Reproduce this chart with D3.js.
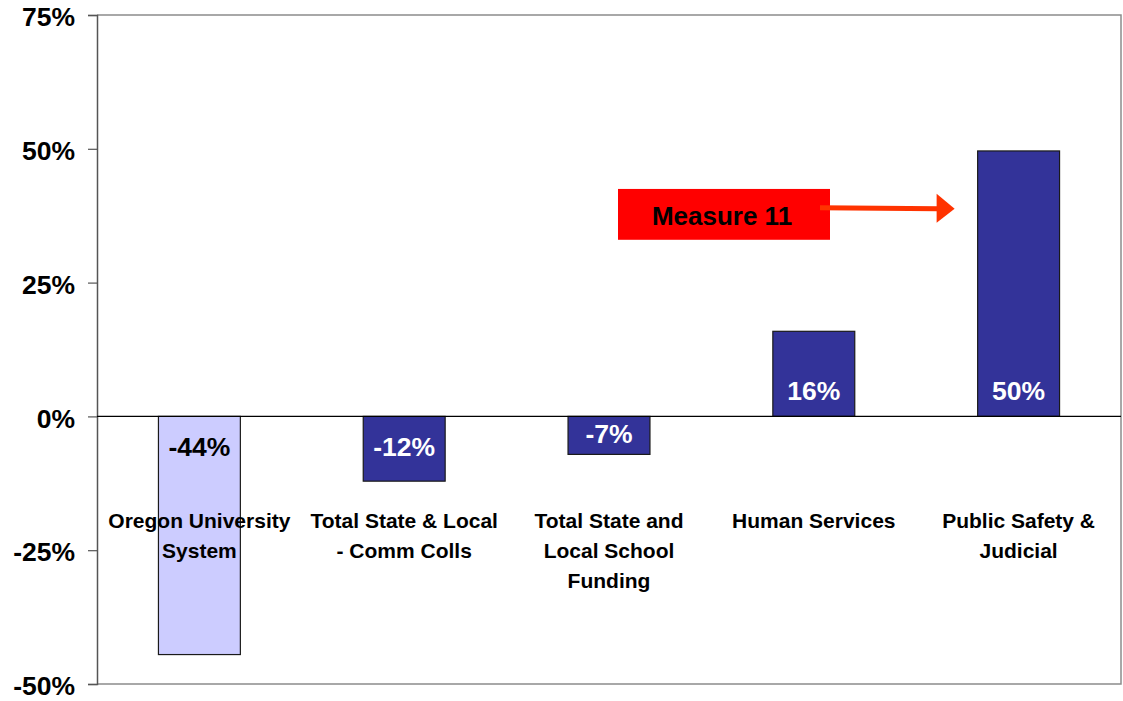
<!DOCTYPE html>
<html>
<head>
<meta charset="utf-8">
<script src="https://cdn.jsdelivr.net/npm/d3@7"></script>
<style>
  body { margin: 0; background: #fff; }
  svg { display: block; font-family: "Liberation Sans", Arial, sans-serif; }
</style>
</head>
<body>
<div id="chart"></div>
<script>
// chart values
const categories = [
  ['Oregon University', 'System'],
  ['Total State & Local', '- Comm Colls'],
  ['Total State and', 'Local School', 'Funding'],
  ['Human Services'],
  ['Public Safety &', 'Judicial']
];
const values = [-44.5, -12.1, -7.1, 15.9, 49.6];
const valueLabels = ['-44%', '-12%', '-7%', '16%', '50%'];
const yTicks = [-50, -25, 0, 25, 50, 75];
const annotationText = 'Measure 11';

const width = 1123;
const height = 701;
const plot = { left: 97, right: 1121, top: 15, bottom: 684 };

const svg = d3
  .select('#chart')
  .append('svg')
  .attr('width', width)
  .attr('height', height);

const x = d3
  .scaleBand()
  .domain(d3.range(categories.length))
  .range([plot.left, plot.right])
  .paddingInner(0.6)
  .paddingOuter(0.3);

const y = d3
  .scaleLinear()
  .domain([-50, 75])
  .range([plot.bottom, plot.top]);

// plot border (top, right, bottom)
svg
  .append('path')
  .attr('d', 'M' + plot.left + ',' + plot.top + 'H' + plot.right + 'V' + plot.bottom + 'H' + plot.left)
  .attr('fill', 'none')
  .attr('stroke', '#8c8c8c')
  .attr('stroke-width', 1.5);

// y axis
const yAxis = d3
  .axisLeft(y)
  .tickValues(yTicks)
  .tickSize(9)
  .tickPadding(13)
  .tickFormat(d => d + '%');

const yg = svg
  .append('g')
  .attr('class', 'y axis')
  .attr('transform', 'translate(' + plot.left + ',0)')
  .call(yAxis);

yg.select('.domain').attr('stroke', '#555').attr('stroke-width', 1.5);
yg.selectAll('.tick line').attr('stroke', '#555').attr('stroke-width', 1.2);
yg.selectAll('.tick text')
  .attr('fill', '#000')
  .attr('font-size', 26.5)
  .attr('font-weight', 'bold')
  .attr('font-family', '"Liberation Sans", Arial, sans-serif')
  .attr('dy', '0.4em');

// bars
svg
  .append('g')
  .selectAll('rect')
  .data(values)
  .join('rect')
  .attr('x', (d, i) => x(i))
  .attr('width', x.bandwidth())
  .attr('y', d => y(Math.max(0, d)))
  .attr('height', d => Math.abs(y(d) - y(0)))
  .attr('fill', (d, i) => (i === 0 ? '#ccccff' : '#333399'))
  .attr('stroke', '#1a1a1a')
  .attr('stroke-width', 1.2);

// zero line
svg
  .append('line')
  .attr('x1', plot.left)
  .attr('x2', plot.right)
  .attr('y1', y(0))
  .attr('y2', y(0))
  .attr('stroke', '#000')
  .attr('stroke-width', 1.2);

// value labels
svg
  .append('g')
  .selectAll('text')
  .data(values)
  .join('text')
  .attr('x', (d, i) => x(i) + x.bandwidth() / 2)
  .attr('y', d => (d < 0 ? Math.min(y(d) - 11, y(0) + 40) : y(0) - 16))
  .attr('text-anchor', 'middle')
  .attr('font-size', 26.5)
  .attr('font-weight', 'bold')
  .attr('fill', (d, i) => (i === 0 ? '#000' : '#fff'))
  .text((d, i) => valueLabels[i]);

// category labels
const catG = svg
  .append('g')
  .selectAll('text')
  .data(categories)
  .join('text')
  .attr('x', (d, i) => x(i) + x.bandwidth() / 2)
  .attr('y', 528)
  .attr('text-anchor', 'middle')
  .attr('font-size', 21)
  .attr('font-weight', 'bold')
  .attr('fill', '#000');

catG
  .selectAll('tspan')
  .data(d => d)
  .join('tspan')
  .attr('x', function() {
    return d3.select(this.parentNode).attr('x');
  })
  .attr('dy', (d, i) => (i === 0 ? 0 : 30))
  .text(d => d);

// Measure 11 annotation
const annY = y(39);
const boxX = 618;
const boxW = 212;
svg
  .append('rect')
  .attr('x', boxX)
  .attr('y', y(42.5))
  .attr('width', boxW)
  .attr('height', y(33) - y(42.5))
  .attr('fill', '#ff0000');

svg
  .append('text')
  .attr('x', boxX + boxW / 2 - 2)
  .attr('y', annY + 17)
  .attr('text-anchor', 'middle')
  .attr('font-size', 26)
  .attr('font-weight', 'bold')
  .attr('fill', '#000')
  .text(annotationText);

const tipX = x(4) - 23;
svg
  .append('line')
  .attr('x1', 820)
  .attr('x2', tipX - 16)
  .attr('y1', annY)
  .attr('y2', annY + 1)
  .attr('stroke', '#ff3300')
  .attr('stroke-width', 5);

svg
  .append('path')
  .attr('d', 'M' + (tipX - 18) + ',' + (annY - 14) + 'L' + tipX + ',' + (annY + 1) + 'L' + (tipX - 18) + ',' + (annY + 15) + 'Z')
  .attr('fill', '#ff3300');
</script>
</body>
</html>
